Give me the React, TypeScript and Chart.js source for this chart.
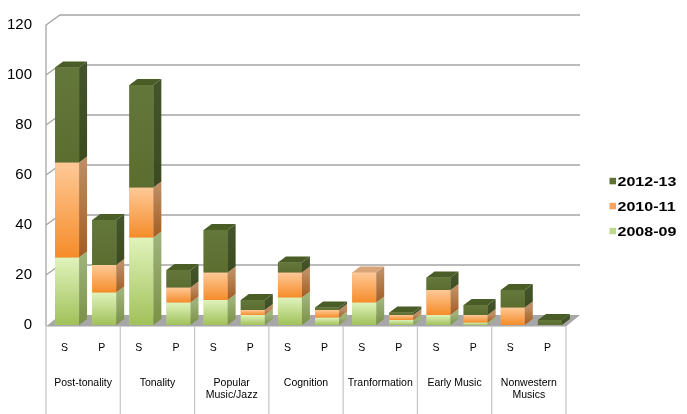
import { useEffect, useRef } from "react";
import { Chart, registerables } from "chart.js";

Chart.register(...registerables);

// two bars per topic: S and P
const subLabels = ["S", "P", "S", "P", "S", "P", "S", "P", "S", "P", "S", "P", "S", "P"];
const groupLabels = [
  ["Post-tonality"],
  ["Tonality"],
  ["Popular", "Music/Jazz"],
  ["Cognition"],
  ["Tranformation"],
  ["Early Music"],
  ["Nonwestern", "Musics"],
];
const seriesNames = ["2008-09", "2010-11", "2012-13"];
const values0809 = [27, 13, 35, 9, 10, 4, 11, 3, 9, 2, 4, 1, 0, 0];
const values1011 = [38, 11, 20, 6, 11, 2, 10, 3, 12, 2, 10, 3, 7, 0];
const values1213 = [38, 18, 41, 7, 17, 4, 4, 1, 0, 1, 5, 4, 7, 2];

const W = 687;
const H = 414;
const BAR_DX = 8;
const BAR_DY = -6;
const WALL_DX = 14;
const WALL_DY = -10;
const SHIFT = 2.5;

const looks = [
  { base: "#bcd98a", front: ["#e0f3bc", "#a1c15a"], side: ["#9db278", "#7a9046"], top: "#c6dd9f" },
  { base: "#f9a35c", front: ["#ffc997", "#f58c2a"], side: ["#bd8c61", "#a35d22"], top: "#d8a57a" },
  { base: "#5f7233", front: ["#64773a", "#5c6d30"], side: ["#44542a", "#3c4b1f"], top: "#4b5d27" },
];

const depthPlugin = {
  id: "depth",
  beforeDatasetsDraw(chart: any) {
    const { ctx, chartArea: a, scales } = chart;
    const ys = scales.y;
    ctx.save();
    // floor
    ctx.fillStyle = "#a7a7a7";
    ctx.beginPath();
    ctx.moveTo(a.left, a.bottom + 1.5);
    ctx.lineTo(a.right, a.bottom + 1.5);
    ctx.lineTo(a.right + WALL_DX, a.bottom + WALL_DY);
    ctx.lineTo(a.left + WALL_DX, a.bottom + WALL_DY);
    ctx.closePath();
    ctx.fill();
    // grid on side and back walls
    ctx.strokeStyle = "#a5a5a5";
    ctx.lineWidth = 1.3;
    for (let v = 20; v <= 120; v += 20) {
      const py = ys.getPixelForValue(v);
      ctx.beginPath();
      ctx.moveTo(a.left, py);
      ctx.lineTo(a.left + WALL_DX, py + WALL_DY);
      ctx.lineTo(a.right + WALL_DX, py + WALL_DY);
      ctx.stroke();
    }
    ctx.beginPath();
    ctx.moveTo(a.left, a.top);
    ctx.lineTo(a.left, a.bottom + 1.5);
    ctx.stroke();
    // category separators
    ctx.strokeStyle = "#c4c4c4";
    ctx.lineWidth = 1.2;
    const slot = (a.right - a.left) / subLabels.length;
    for (let g = 0; g <= groupLabels.length; g++) {
      const x = a.left + g * 2 * slot;
      ctx.beginPath();
      ctx.moveTo(x, a.bottom + 1.5);
      ctx.lineTo(x, H);
      ctx.stroke();
    }
    ctx.restore();
    ctx.save();
    ctx.translate(SHIFT, 0);
  },
  afterDatasetsDraw(chart: any) {
    const { ctx } = chart;
    const metas = chart.data.datasets.map((_: any, d: number) => chart.getDatasetMeta(d));
    for (let i = 0; i < subLabels.length; i++) {
      let topD = -1;
      metas.forEach((m: any, d: number) => {
        if ((chart.data.datasets[d].data[i] as number) > 0) topD = d;
      });
      metas.forEach((m: any, d: number) => {
        if (!((chart.data.datasets[d].data[i] as number) > 0)) return;
        const el = m.data[i];
        const { x, y, base, width } = el.getProps(["x", "y", "base", "width"], true);
        const l = x - width / 2;
        const r = x + width / 2;
        const look = looks[d];
        const fg = ctx.createLinearGradient(0, y, 0, base);
        fg.addColorStop(0, look.front[0]);
        fg.addColorStop(1, look.front[1]);
        ctx.fillStyle = fg;
        ctx.fillRect(l, y, width, base - y);
        const sg = ctx.createLinearGradient(0, y, 0, base);
        sg.addColorStop(0, look.side[0]);
        sg.addColorStop(1, look.side[1]);
        ctx.fillStyle = sg;
        ctx.beginPath();
        ctx.moveTo(r, y);
        ctx.lineTo(r + BAR_DX, y + BAR_DY);
        ctx.lineTo(r + BAR_DX, base + BAR_DY);
        ctx.lineTo(r, base);
        ctx.closePath();
        ctx.fill();
        if (d === topD) {
          ctx.fillStyle = look.top;
          ctx.beginPath();
          ctx.moveTo(l, y);
          ctx.lineTo(l + BAR_DX, y + BAR_DY);
          ctx.lineTo(r + BAR_DX, y + BAR_DY);
          ctx.lineTo(r, y);
          ctx.closePath();
          ctx.fill();
        }
      });
    }
    ctx.restore();
  },
  afterDraw(chart: any) {
    const { ctx, scales } = chart;
    const xs = scales.x;
    ctx.save();
    ctx.fillStyle = "#000";
    ctx.textAlign = "center";
    ctx.textBaseline = "alphabetic";
    ctx.font = "10.5px 'Liberation Sans', Arial, sans-serif";
    subLabels.forEach((s, i) => {
      ctx.fillText(s, xs.getPixelForValue(i), 350.5);
    });
    groupLabels.forEach((lines, g) => {
      const cx = (xs.getPixelForValue(2 * g) + xs.getPixelForValue(2 * g + 1)) / 2;
      lines.forEach((t, k) => ctx.fillText(t, cx, 386 + k * 11.5));
    });
    // legend, newest year on top
    ctx.textAlign = "left";
    ctx.font = "bold 13.5px 'Liberation Sans', Arial, sans-serif";
    [2, 1, 0].forEach((d, row) => {
      const cy = 181 + row * 25;
      ctx.fillStyle = looks[d].base;
      ctx.fillRect(609.5, cy - 3.2, 6.5, 6.5);
      ctx.fillStyle = "#000";
      ctx.save();
      ctx.translate(617.5, cy + 4.8);
      ctx.scale(1.19, 1);
      ctx.fillText(seriesNames[d], 0, 0);
      ctx.restore();
    });
    ctx.restore();
  },
};

function StackedTopics() {
  const canvasRef = useRef<HTMLCanvasElement>(null);
  const chartRef = useRef<Chart | null>(null);

  useEffect(() => {
    if (!canvasRef.current) return;
    chartRef.current?.destroy();
    const all = [values0809, values1011, values1213];
    chartRef.current = new Chart(canvasRef.current, {
      type: "bar",
      data: {
        labels: subLabels.map((s, i) => `${s}${i}`),
        datasets: all.map((vals, d) => ({
          label: seriesNames[d],
          data: vals,
          backgroundColor: looks[d].base,
          borderWidth: 0,
          categoryPercentage: 1,
          barPercentage: 0.646,
          clip: false as any,
        })),
      },
      options: {
        responsive: true,
        maintainAspectRatio: false,
        animation: false,
        layout: { padding: { top: 25, right: 121, bottom: 89, left: 0 } },
        font: { family: "'Liberation Sans', Arial, sans-serif" },
        scales: {
          x: { stacked: true, display: false },
          y: {
            stacked: true,
            min: 0,
            max: 120,
            grid: { display: false, drawTicks: false },
            border: { display: false },
            ticks: {
              stepSize: 20,
              color: "#000",
              padding: 14,
              font: { size: 15, family: "'Liberation Sans', Arial, sans-serif" },
            },
            afterFit: (s: any) => {
              s.width = 46;
            },
          },
        },
        plugins: { legend: { display: false }, tooltip: { enabled: false } },
      },
      plugins: [depthPlugin],
    } as any);
    return () => chartRef.current?.destroy();
  }, []);

  return (
    <div style={{ position: "absolute", left: 0, top: 0, width: W, height: H, background: "#fff" }}>
      <canvas ref={canvasRef} />
    </div>
  );
}

export default function App() {
  return <StackedTopics />;
}
